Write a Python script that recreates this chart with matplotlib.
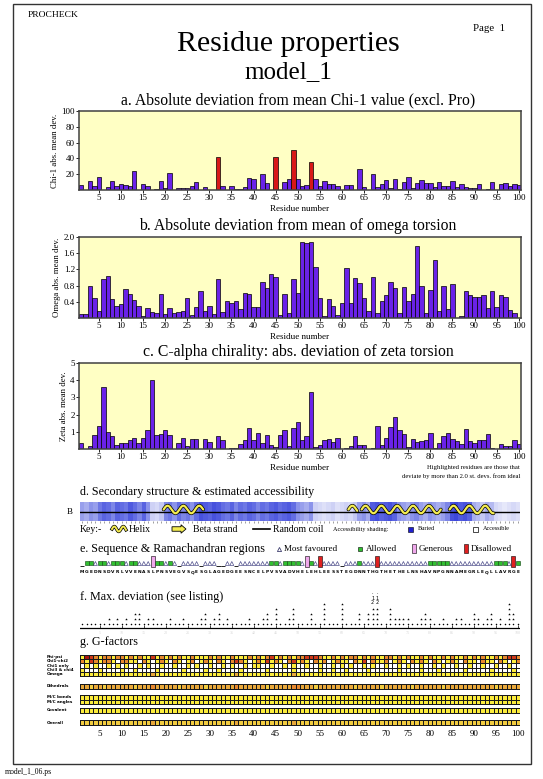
import numpy as np
import matplotlib
matplotlib.use("Agg")
import matplotlib.pyplot as plt
from matplotlib.colors import ListedColormap, LinearSegmentedColormap
from matplotlib.patches import Rectangle, FancyArrow

plt.rcParams['font.family'] = ['Liberation Serif', 'DejaVu Serif']

W, H = 543, 779

# ---------------- data ----------------
residues = list(range(1, 101))
tick_residues = list(range(5, 101, 5))

chi1_dev = [6, 0, 12, 5, 17, 0, 4, 11, 5, 7,
            6, 5, 24, 0, 7, 5, 0, 1, 12, 3,
            22, 0, 3, 3, 3, 5, 10, 0, 4, 0,
            0, 42, 5, 0, 5, 1, 1, 4, 15, 14,
            0, 20, 9, 0, 42, 0, 10, 14, 51, 14,
            5, 6, 36, 14, 5, 11, 8, 7, 5, 0,
            6, 6, 0, 27, 4, 0, 20, 4, 7, 13,
            3, 14, 1, 10, 17, 3, 9, 13, 9, 9,
            4, 10, 5, 5, 11, 4, 7, 4, 2, 3,
            8, 0, 1, 10, 0, 7, 9, 5, 7, 6]
chi1_outliers = [32, 45, 49, 53]

omega_dev = [0.10, 0.10, 0.78, 0.49, 0.17, 0.97, 1.04, 0.46, 0.30, 0.35,
             0.72, 0.60, 0.44, 0.30, 0.05, 0.25, 0.15, 0.12, 0.60, 0.10,
             0.25, 0.13, 0.15, 0.17, 0.49, 0.07, 0.28, 0.67, 0.17, 0.30,
             0.10, 0.96, 0.15, 0.42, 0.37, 0.42, 0.23, 0.62, 0.60, 0.28,
             0.28, 0.88, 0.73, 1.08, 1.02, 0.07, 0.60, 0.12, 0.96, 0.62,
             1.87, 1.85, 1.87, 1.27, 0.50, 0.06, 0.46, 0.30, 0.07, 0.36,
             1.24, 0.36, 0.99, 0.86, 0.50, 0.18, 1.01, 0.12, 0.42, 0.57,
             0.90, 0.73, 0.12, 0.76, 0.42, 0.59, 1.79, 0.78, 0.12, 0.68,
             1.42, 0.17, 0.78, 0.23, 0.83, 0.00, 0.05, 0.66, 0.57, 0.53,
             0.53, 0.56, 0.25, 0.67, 0.27, 0.57, 0.51, 0.20, 0.12, 0.00]

zeta_dev = [0.35, 0.00, 0.20, 0.80, 1.35, 3.60, 1.00, 0.75, 0.25, 0.35,
            0.35, 0.55, 0.65, 0.35, 0.65, 1.10, 4.00, 0.80, 0.90, 1.10,
            0.80, 0.00, 0.35, 0.65, 0.15, 0.60, 0.60, 0.00, 0.60, 0.40,
            0.00, 0.75, 0.55, 0.00, 0.05, 0.05, 0.30, 0.55, 1.20, 0.50,
            0.95, 0.35, 0.80, 0.25, 0.10, 0.80, 1.10, 0.15, 1.20, 1.55,
            0.50, 0.75, 3.30, 0.10, 0.25, 0.55, 0.60, 0.40, 0.65, 0.00,
            0.05, 0.20, 0.75, 0.25, 0.25, 0.00, 0.05, 1.35, 0.25, 0.65,
            1.30, 1.85, 1.10, 0.90, 0.10, 0.60, 0.40, 0.45, 0.55, 0.95,
            0.05, 0.35, 0.75, 0.95, 0.60, 0.45, 0.30, 1.15, 0.45, 0.35,
            0.55, 0.50, 0.90, 0.05, 0.00, 0.30, 0.15, 0.15, 0.55, 0.30]

sequence = ("MGEDNSDVRL" "VVENASLPNS" "VEGVSQESGL" "AGEDGEESNC" "ELPVSVADVH"
            "ELEHLEESST" "EGDNNTHGTH" "ETHELNSHAV" "NPGNNAMEGR" "LEQLLAVRGE")

accessibility = [0.50, 0.45, 0.55, 0.50, 0.65, 0.75, 0.70, 0.60, 0.75, 0.70,
                 0.65, 0.80, 0.70, 0.60, 0.75, 0.55, 0.30, 0.25, 0.35, 0.60,
                 0.65, 0.55, 0.70, 0.60, 0.65, 0.55, 0.70, 0.85, 0.80, 0.75,
                 0.85, 0.80, 0.70, 0.65, 0.75, 0.60, 0.70, 0.65, 0.75, 0.70,
                 0.60, 0.70, 0.65, 0.75, 0.80, 0.70, 0.75, 0.80, 0.70, 0.55,
                 0.50, 0.45, 0.55, 0.30, 0.25, 0.20, 0.25, 0.30, 0.20, 0.25,
                 0.30, 0.25, 0.35, 0.50, 0.55, 0.45, 0.80, 0.85, 0.75, 0.80,
                 0.85, 0.75, 0.55, 0.50, 0.45, 0.55, 0.60, 0.50, 0.45, 0.55,
                 0.50, 0.45, 0.50, 0.60, 0.85, 0.90, 0.80, 0.85, 0.75, 0.45,
                 0.40, 0.35, 0.45, 0.40, 0.25, 0.20, 0.15, 0.20, 0.25, 0.20]

helix_segments = [(20, 28), (62, 63), (65, 82), (85, 94)]

# 0 none, 1 most favoured, 2 allowed, 3 generous, 4 disallowed
rama_region = [0, 2, 2, 1, 2, 2, 1, 2, 2, 2,
               1, 2, 2, 1, 1, 1, 3, 2, 2, 1,
               2, 1, 0, 1, 1, 1, 1, 0, 1, 1,
               1, 0, 0, 1, 1, 0, 1, 1, 1, 1,
               1, 1, 1, 2, 2, 1, 2, 2, 2, 2,
               1, 3, 2, 1, 4, 1, 1, 1, 1, 0,
               1, 1, 1, 2, 1, 1, 1, 4, 1, 1,
               1, 1, 1, 1, 1, 1, 1, 1, 1, 2,
               2, 2, 2, 2, 1, 1, 1, 1, 1, 1,
               1, 1, 1, 1, 2, 2, 2, 1, 4, 2]

max_dev_marks = [0, 0, 0, 0, 0, 0, 1, 0, 1, 0,
                 1, 0, 2, 2, 0, 1, 1, 0, 0, 0,
                 1, 0, 0, 1, 0, 0, 0, 1, 2, 0,
                 1, 2, 0, 1, 0, 0, 0, 0, 1, 0,
                 0, 1, 2, 0, 3, 0, 0, 1, 3, 0,
                 0, 0, 2, 0, 0, 4, 0, 0, 0, 4,
                 0, 0, 0, 2, 0, 2, 3, 3, 0, 0,
                 3, 1, 1, 1, 1, 0, 0, 1, 2, 1,
                 0, 0, 1, 0, 0, 1, 1, 0, 0, 2,
                 1, 0, 1, 2, 0, 1, 0, 4, 2, 0]

gf_labels_top = ['Phi-psi', 'Chi1-chi2', 'Chi1 only', 'Chi3 & chi4', 'Omega']
gf_top = ["YDROYOOYOO YOYOYYRYOY OYOYYOYYYO YOYYOYYYOY OYORYOYOYO ORRROYYOYO YOOYOYOYYO OYOYOYYOYO YYOYOYYOYO YOYYOYORRO",
          "OYROYOOYWO OYYWOYWYOY WOYWYOWYOY WOYWOROYWY OYRYOYWORY OYWOYOWYOY YWOYRWOYYO WYOYWOYOYW OYWYOYWOYY WOYYWOYWYO",
          "WYWYWWYWYW YWWYWYWWYW WYWWYWYWWY WWYWYWWYWY YWWYWWYWYW WYWWYWWYWY WYWWYWYWWY WWYWYWWYWW YWYWWYWWYW WYWWYWWYWW",
          "YWWWYWWWWY WWYWWWWYWW WWWYWWWWYW WYWWWWYWWW WWYWWWWWYW WWWWYWWYWW YWWWWYWWWW WWYWWWWYWW WYWWWWWYWW WWWYWWWWYW",
          "YYYYYYYYYY YYYYYYLYYY YYYYYYYYYY YYYYYLYYYY YYYYYYYYLY YYYYYYYYYY YYYYYYYYYY YYYYYYYYYY YYYYYYYYYY YYYYYYYYYY"]
gf_dihedrals = "LLMLLMLLLL LLMLLLOLLL LLMLLLLLML LLLLLOLLLL LLMLLLLLOO LLLMLLLLLL LLMLLLLLML LLLLLMLLLL LLMLLLLLLL LLLLMLLLLL"
gf_mc = ["YYYYYYYYYY YYYYYYYYYY YYYYYYYYYY YYYYYYYYYY YYYYYYYYYY YYYYYYYYYY YYYYYYYYYY YYYYYYYYYY YYYYYYYYYY YYYYYYYYYY",
         "YYYYYYYYYY YYYYYYYYYY YYYYYYYYYY YYYYYYYYYY YYYYYYYYYY YYYYYYYYYY YYYYYYYYYY YYYYYYYYYY YYYYYYYYYY YYYYYYYYYY"]
gf_covalent = "YYYYYYYYYY YYYYYYYYYY YYYYYYYYYY YYYYYYYYYY YYYYYYYYYY YYYYYYYYYY YYYYYYYYYY YYYYYYYYYY YYYYYYYYYY YYYYYYYYYY"
gf_overall = "MMMMMMMMMM MMMMMMLMMM MMMMMMMMMM MMMMMLMMMM MMMMMMMMLM MMMMMMMMMM MMMMMMMMMM MMMMMMMMMM MMMMMMMMMM MMMMMMMMMM"
gf_colors = {'W': '#FFFFFF', 'Y': '#FCEC3C', 'M': '#F2CC40', 'L': '#E9A83A',
             'O': '#E8882E', 'R': '#D0381A', 'D': '#A81410'}

# ---------------- figure ----------------
fig = plt.figure(figsize=(W / 100, H / 100), dpi=100)
page = fig.add_axes([0, 0, 1, 1])
page.set_xlim(0, W)
page.set_ylim(H, 0)
page.axis('off')

page.add_patch(Rectangle((13, 4), 518, 760, fill=False, lw=1.0, ec='#333333'))
page.text(28, 15, 'PROCHECK', fontsize=6.8, va='center', ha='left')
page.text(473, 28, 'Page  1', fontsize=7.8, va='center', ha='left')
page.text(288, 44, 'Residue properties', fontsize=21.5, ha='center', va='center')
page.text(288, 72, 'model_1', fontsize=18, ha='center', va='center')
page.text(5, 772, 'model_1_06.ps', fontsize=5.5, va='center', ha='left')


def px_axes(x0, y0, x1, y1):
    return fig.add_axes([x0 / W, 1 - y1 / H, (x1 - x0) / W, (y1 - y0) / H])


BAR = '#6A22E8'


def bar_panel(y0, y1, title, values, ymax, yticks, ylabel, colors):
    ax = px_axes(79, y0, 521, y1)
    ax.set_facecolor('#FFFFC4')
    ax.bar(residues, values, width=1.0, color=colors, edgecolor='black', linewidth=0.5)
    ax.set_xlim(0.5, 100.5)
    ax.set_ylim(0, ymax)
    ax.set_xticks(tick_residues)
    ax.set_xticklabels([str(t) for t in tick_residues])
    ax.set_yticks(yticks)
    ax.tick_params(axis='both', labelsize=6.5, length=2, width=0.6, pad=1)
    ax.set_ylabel(ylabel, fontsize=6.3, labelpad=2)
    ax.set_xlabel('Residue number', fontsize=6.5, labelpad=2)
    for s in ax.spines.values():
        s.set_color('#404040')
        s.set_linewidth(1.1)
    page.text(298, y0 - 11, title, fontsize=11.3, ha='center', va='center')
    return ax


chi1_colors = ['#D81818' if r in chi1_outliers else BAR for r in residues]
ax_a = bar_panel(111, 190, 'a. Absolute deviation from mean Chi-1 value (excl. Pro)',
                 chi1_dev, 100, [20, 40, 60, 80, 100], 'Chi-1 abs. mean dev.', chi1_colors)
ax_b = bar_panel(237, 318, 'b. Absolute deviation from mean of omega torsion',
                 omega_dev, 2.0, [0.4, 0.8, 1.2, 1.6, 2.0], 'Omega abs. mean dev.', BAR)
ax_b.set_yticklabels(['0.4', '0.8', '1.2', '1.6', '2.0'])
ax_c = bar_panel(363, 449, 'c. C-alpha chirality: abs. deviation of zeta torsion',
                 zeta_dev, 5, [1, 2, 3, 4, 5], 'Zeta abs. mean dev.', BAR)

page.text(520, 467, 'Highlighted residues are those that', fontsize=4.8, ha='right', va='center')
page.text(520, 476, 'deviate by more than 2.0 st. devs. from ideal', fontsize=4.8, ha='right', va='center')

# ---------------- lower panels (residue x, pixel y) ----------------
low = px_axes(80, 485, 520, 740)
low.set_xlim(0.5, 100.5)
low.set_ylim(740, 485)
low.axis('off')
edges = np.arange(0.5, 101.0, 1.0)

# d. secondary structure
page.text(80, 492, 'd. Secondary structure & estimated accessibility', fontsize=8.7, ha='left', va='center')
page.text(70, 512, 'B', fontsize=6.5, ha='center', va='center')
blue_cmap = LinearSegmentedColormap.from_list('acc', ['#FFFFFF', '#C8CCF4', '#6A74E4', '#2A34D8'])
low.pcolormesh(edges, [502, 521], [accessibility], cmap=blue_cmap, vmin=0, vmax=1)
low.plot([0.5, 100.5], [511.5, 511.5], color='black', lw=1.0)
for s, e in helix_segments:
    xs = np.linspace(s - 0.5, e + 0.5, 200)
    ys = 509.5 - 3.8 * np.sin(2 * np.pi * (xs - s + 0.5) / 3.6)
    low.plot(xs, ys, color='black', lw=2.6, solid_capstyle='round')
    low.plot(xs, ys, color='#F4EC50', lw=1.6, solid_capstyle='round')
low.vlines(residues, 521, 522.5, color='#555555', lw=0.4)

# key row
page.text(80, 529, 'Key:-', fontsize=7, ha='left', va='center')
kx = np.linspace(112, 126, 60)
ky = 529 - 2.5 * np.sin(2 * np.pi * (kx - 112) / 9)
page.plot(kx, ky, color='black', lw=2.4)
page.plot(kx, ky, color='#F4EC50', lw=1.4)
page.text(129, 529, 'Helix', fontsize=7, ha='left', va='center')
page.add_patch(FancyArrow(172, 529, 14, 0, width=4.5, head_width=8.5, head_length=5,
                          length_includes_head=True, fc='#F4EC50', ec='black', lw=0.6))
page.text(193, 529, 'Beta strand', fontsize=7, ha='left', va='center')
page.plot([253, 270], [529, 529], color='black', lw=1.2)
page.text(273, 529, 'Random coil', fontsize=7, ha='left', va='center')
page.text(333, 529, 'Accessibility shading:', fontsize=4.5, ha='left', va='center')
page.add_patch(Rectangle((408, 526.5), 5, 5, fc='#2020D0', ec='black', lw=0.4))
page.text(418, 529, 'Buried', fontsize=4.5, ha='left', va='center')
page.add_patch(Rectangle((473, 526.5), 5, 5, fc='white', ec='black', lw=0.5))
page.text(483, 529, 'Accessible', fontsize=4.5, ha='left', va='center')

# e. sequence & Ramachandran regions
page.text(80, 549, 'e. Sequence & Ramachandran regions', fontsize=8.7, ha='left', va='center')
page.plot([279], [549], marker='^', ms=3, mfc='none', mec='#404070', mew=0.6)
page.text(284, 549, 'Most favoured', fontsize=6.5, ha='left', va='center')
page.add_patch(Rectangle((358, 547), 4, 4, fc='#30C030', ec='black', lw=0.4))
page.text(366, 549, 'Allowed', fontsize=6.5, ha='left', va='center')
page.add_patch(Rectangle((412, 544), 4, 9, fc='#F0A8EC', ec='black', lw=0.4))
page.text(419, 549, 'Generous', fontsize=6.5, ha='left', va='center')
page.add_patch(Rectangle((464, 544), 4, 9, fc='#E02020', ec='black', lw=0.4))
page.text(471, 549, 'Disallowed', fontsize=6.5, ha='left', va='center')

fav = [r for r, c in zip(residues, rama_region) if c == 1]
alw = [r for r, c in zip(residues, rama_region) if c == 2]
gen = [r for r, c in zip(residues, rama_region) if c == 3]
dis = [r for r, c in zip(residues, rama_region) if c == 4]
non = [r for r, c in zip(residues, rama_region) if c == 0]
low.scatter(fav, [563.5] * len(fav), marker='^', s=8, facecolors='none', edgecolors='#50508C', linewidths=0.5)
low.scatter(alw, [563] * len(alw), marker='s', s=10, facecolors='#30C030', edgecolors='#104010', linewidths=0.4)
low.bar(gen, 11, bottom=556, width=0.9, color='#F0A8EC', edgecolor='black', linewidth=0.4)
low.bar(dis, 11, bottom=556, width=0.9, color='#E02020', edgecolor='black', linewidth=0.4)
low.hlines([566] * len(non), [r - 0.5 for r in non], [r + 0.5 for r in non], color='black', lw=0.6)
for r, ch in zip(residues, sequence):
    low.text(r, 572, ch, fontsize=3.2, ha='center', va='center', family='DejaVu Sans', weight='bold')

# f. max deviation
page.text(80, 597, 'f. Max. deviation (see listing)', fontsize=8.7, ha='left', va='center')
low.plot([0.5, 100.5], [627.5, 627.5], color='black', lw=0.9)
low.scatter(residues, [624] * 100, s=1.2, c='black', marker='o', linewidths=0)
low.vlines(tick_residues, 625, 627.5, color='black', lw=0.5)
for r, n in zip(residues, max_dev_marks):
    if n:
        low.scatter([r] * n, [624 - 5 * k for k in range(1, n + 1)], s=4, c='black',
                    marker='*', linewidths=0)
for r in [67, 68]:
    low.text(r, 603, '2', fontsize=3.5, ha='center', va='center', family='DejaVu Sans')
    low.text(r, 598, '1', fontsize=3.5, ha='center', va='center', family='DejaVu Sans')
    low.text(r, 593, '.', fontsize=3.5, ha='center', va='center', family='DejaVu Sans')
for t in tick_residues:
    low.text(t, 633, str(t), fontsize=3, color='#D8D8D8', ha='center', va='center')

# g. G-factors
page.text(80, 642, 'g. G-factors', fontsize=8.7, ha='left', va='center')
codes = list(gf_colors.keys())
gcmap = ListedColormap([gf_colors[c] for c in codes])


def gf_rows(rows, y_top, row_h):
    arr = [[codes.index(ch) for ch in row.replace(' ', '')] for row in rows]
    ys = [y_top + row_h * i for i in range(len(rows) + 1)]
    low.pcolormesh(edges, ys, arr, cmap=gcmap, vmin=-0.5, vmax=len(codes) - 0.5,
                   edgecolors='#1A1A1A', linewidth=0.45)
    return ys


ys = gf_rows(gf_top, 655, 4.2)
for lab, y in zip(gf_labels_top, ys[:-1]):
    page.text(47, y + 2.1, lab, fontsize=3.0, family='DejaVu Sans', weight='bold', ha='left', va='center')
gf_rows([gf_dihedrals], 684, 4.8)
page.text(47, 686.4, 'Dihedrals', fontsize=3.0, family='DejaVu Sans', weight='bold', ha='left', va='center')
ys = gf_rows(gf_mc, 695, 4.5)
page.text(47, 697.2, 'M/C bonds', fontsize=3.0, family='DejaVu Sans', weight='bold', ha='left', va='center')
page.text(47, 701.7, 'M/C angles', fontsize=3.0, family='DejaVu Sans', weight='bold', ha='left', va='center')
gf_rows([gf_covalent], 708, 4.8)
page.text(47, 710.4, 'Covalent', fontsize=3.0, family='DejaVu Sans', weight='bold', ha='left', va='center')
gf_rows([gf_overall], 720, 5.0)
page.text(47, 722.5, 'Overall', fontsize=3.0, family='DejaVu Sans', weight='bold', ha='left', va='center')
for t in tick_residues:
    low.text(t, 734, str(t), fontsize=6.5, ha='center', va='center')

fig.savefig('out.png', dpi=100)
